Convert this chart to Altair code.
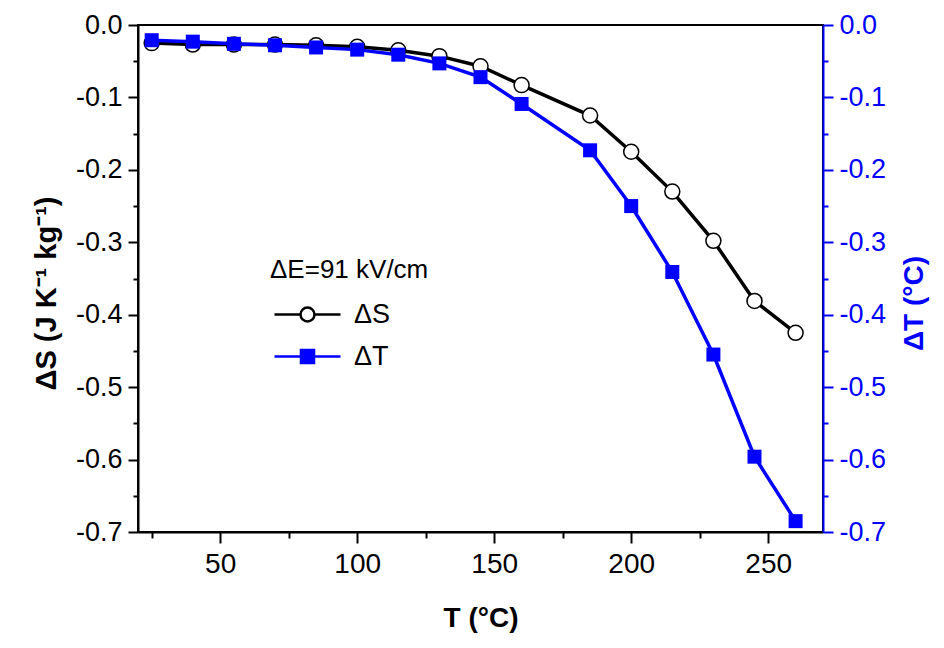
import altair as alt
import pandas as pd

# ---- data ----
T = [25, 40, 55, 70, 85, 100, 115, 130, 145, 160, 185, 200, 215, 230, 245, 260]
dS = [-0.025, -0.027, -0.027, -0.027, -0.028, -0.030, -0.035, -0.043, -0.057,
      -0.083, -0.125, -0.175, -0.230, -0.298, -0.381, -0.425]
dT = [-0.021, -0.023, -0.026, -0.028, -0.031, -0.034, -0.041, -0.053, -0.072,
      -0.109, -0.173, -0.250, -0.341, -0.455, -0.596, -0.685]
series = ["ΔS", "ΔT"]
legend_title = "ΔE=91 kV/cm"
x_ticks = [25, 50, 75, 100, 125, 150, 175, 200, 225, 250]
y_ticks = [0.0, -0.05, -0.1, -0.15, -0.2, -0.25, -0.3, -0.35, -0.4, -0.45,
           -0.5, -0.55, -0.6, -0.65, -0.7]

BLUE = "#0000FF"
FONT = "Liberation Sans"

df = pd.DataFrame({"T": T, "dS": dS, "dT": dT})
leg_df = pd.DataFrame({"series": series})

# legend symbols: line with marker (unit coordinates)
path_S = "M-4.4,0H-0.93M0.93,0H4.4M-0.93,0A0.93,0.93,0,1,1,0.93,0A0.93,0.93,0,1,1,-0.93,0Z"
path_T = "M-4.4,0H4.4M-0.87,-0.87H0.87V0.87H-0.87Z"

minor_y = "abs(round(datum.value*100)) % 10 != 0"
y_label_expr = ("abs(round(datum.value*100)) % 10 == 0 ? "
                "replace(format(datum.value, '.1f'), '\u2212', '-') : ''")

x_enc = alt.X(
    "T:Q",
    scale=alt.Scale(domain=[20, 270], nice=False, zero=False),
    axis=alt.Axis(
        title="T (°C)", values=x_ticks,
        labelExpr="datum.value % 50 == 0 ? datum.label : ''",
        tickSize={"condition": {"test": "datum.value % 50 != 0", "value": 6}, "value": 11},
        labelFontSize=28, labelPadding=7, titleFontSize=28, titleFontWeight="bold",
        titlePadding=26,
    ),
)

y_scale = alt.Scale(domain=[-0.7, 0], nice=False, zero=False)

left_axis = alt.Axis(
    title="ΔS (J K⁻¹ kg⁻¹)", values=y_ticks, labelExpr=y_label_expr,
    tickSize={"condition": {"test": minor_y, "value": 5}, "value": 10},
    labelFontSize=27, labelPadding=6, titleFontSize=29, titleFontWeight="bold",
    titlePadding=14, titleY=268,
)
right_axis = alt.Axis(
    orient="right", title="ΔT (°C)", values=y_ticks, labelExpr=y_label_expr,
    tickSize={"condition": {"test": minor_y, "value": 5}, "value": 10},
    labelFontSize=27, labelPadding=6, titleFontSize=28, titleFontWeight="bold",
    titlePadding=15, titleAngle=270, titleBaseline="top", titleY=278,
    labelColor=BLUE, tickColor=BLUE, domainColor=BLUE, titleColor=BLUE,
)

base = alt.Chart(df)

line_S = base.mark_line(color="black", strokeWidth=3.5).encode(
    x=x_enc, y=alt.Y("dS:Q", scale=y_scale, axis=left_axis))
pts_S = base.mark_point(shape="circle", filled=True, fill="white", stroke="black",
                        strokeWidth=1.5, size=225, opacity=1).encode(
    x=x_enc, y=alt.Y("dS:Q", scale=y_scale, axis=None))
line_T = base.mark_line(color=BLUE, strokeWidth=3.5).encode(
    x=x_enc, y=alt.Y("dT:Q", scale=y_scale, axis=right_axis))
pts_T = base.mark_square(color=BLUE, size=196, opacity=1).encode(
    x=x_enc, y=alt.Y("dT:Q", scale=y_scale, axis=None))

leg = alt.Legend(
    title=legend_title, orient="none", legendX=132, legendY=232, padding=0,
    titleFont=FONT, titleFontSize=26, titleFontWeight="normal", titleColor="black",
    titlePadding=18, labelFont=FONT, labelFontSize=27, labelColor="black",
    labelOffset=33, symbolOffset=24, symbolSize=225, symbolStrokeWidth=2.5,
    rowPadding=14, symbolOpacity=1,
)
legend_layer = alt.Chart(leg_df).mark_point(filled=True).encode(
    shape=alt.Shape("series:N", scale=alt.Scale(domain=series, range=[path_S, path_T]), legend=leg),
    fill=alt.Fill("series:N", scale=alt.Scale(domain=series, range=["white", BLUE]), legend=leg),
    stroke=alt.Stroke("series:N", scale=alt.Scale(domain=series, range=["black", BLUE]), legend=leg),
).transform_filter("false")

chart = alt.layer(line_S, pts_S, line_T, pts_T, legend_layer).resolve_scale(
    y="independent"
).properties(
    width=685, height=507,
    autosize=alt.AutoSizeParams(type="none"),
    padding={"left": 130, "top": 17, "right": 113, "bottom": 108},
).configure_view(
    stroke="black", strokeWidth=2
).configure_axis(
    labelFont=FONT, titleFont=FONT, grid=False,
    domainColor="black", tickColor="black", labelColor="black", titleColor="black",
    domainWidth=2, tickWidth=2,
)

chart.save("out.html", embed_options={"renderer": "svg", "actions": False})
